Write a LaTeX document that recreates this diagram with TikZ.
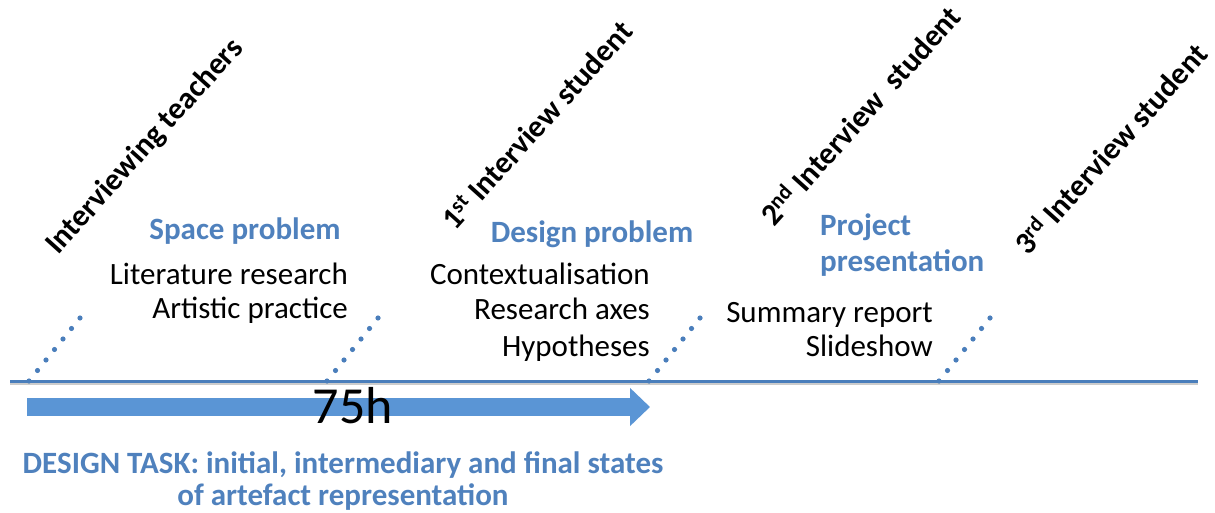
\documentclass[tikz,border=0pt]{standalone}
\usepackage{fontspec}
\setmainfont{Carlito}
\usetikzlibrary{arrows.meta,positioning,calc}

\definecolor{officeblue}{HTML}{4F81BD}
\definecolor{lineblue}{HTML}{4A7EBB}
\definecolor{arrowblue}{HTML}{5A95D5}

\begin{document}
\begin{tikzpicture}[x=1pt,y=-1pt,
        stage/.style={font=\fontsize{31}{36}\selectfont\bfseries, rotate=48, anchor=base west, inner sep=0pt},
        phase/.style={font=\fontsize{31}{36}\selectfont\bfseries, text=officeblue, inner sep=0pt},
        task/.style={font=\fontsize{31}{36}\selectfont, anchor=base east, inner sep=0pt}]

        \useasboundingbox (0,0) rectangle (1215,513);

        % draw the time line with its shadow
        \coordinate (tstart) at (10,381);
        \coordinate (tend) at (1198,381);
        \draw[gray!40, line width=3pt] ([yshift=-2.5pt]tstart) -- ([yshift=-2.5pt]tend);
        \draw[lineblue, line width=3pt] (tstart) -- (tend);

        % draw the milestones
        \foreach \name/\x/\lx/\ly/\text in {
            % x of the tick, then foot of the rotated label
            teachers/29/58/256/{Interviewing teachers},
            first/327/455/232/{1\textsuperscript{st} Interview student},
            second/649/774/228/{2\textsuperscript{nd} Interview~ student},
            third/939/1028/257/{3\textsuperscript{rd} Interview student}}
        {
                \coordinate (\name) at (\x,381);
                \coordinate (\name-top) at ([shift={(51,-63)}]\name);
                % dotted tick, one dot at a time
                \foreach \i in {0,...,6}
                        \fill[lineblue] ($(\name)!\i/6!(\name-top)$) circle (2.6pt);
                \node[stage] (\name-label) at (\lx,\ly) {\text};
        }

        % the 75 hours arrow
        \coordinate (astart) at (27,407);
        \coordinate (aend) at (650,407);
        \draw[arrowblue, line width=18pt, -{Triangle[length=20pt,width=37pt]}] (astart) -- (aend);
        \node[font=\fontsize{52}{60}\selectfont, anchor=base, inner sep=0pt] (hours) at (353,423) {75h};

        % space problem
        \node[phase, anchor=base] (space) at (245,239) {Space problem};
        \node[task] (literature) at (348,284) {Literature research};
        \node[task] (artistic) at (348,318) {Artistic practice};

        % design problem
        \node[phase, anchor=base] (design) at (592,243) {Design problem};
        \node[task] (context) at (650,284) {Contextualisation};
        \node[task] (axes) at (650,319) {Research axes};
        \node[task] (hypo) at (650,356) {Hypotheses};

        % project presentation
        \node[phase, anchor=base west] (project) at (820,236) {Project};
        \node[phase, anchor=base west] (presentation) at (820,271) {presentation};
        \node[task] (summary) at (933,322) {Summary report};
        \node[task] (slides) at (933,356) {Slideshow};

        % design task
        \node[phase, anchor=base] (tasktitle) at (343,473) {DESIGN TASK: initial, intermediary and final states};
        \node[phase, anchor=base] (taskrest) at (343,505) {of artefact representation};

\end{tikzpicture}
\end{document}
